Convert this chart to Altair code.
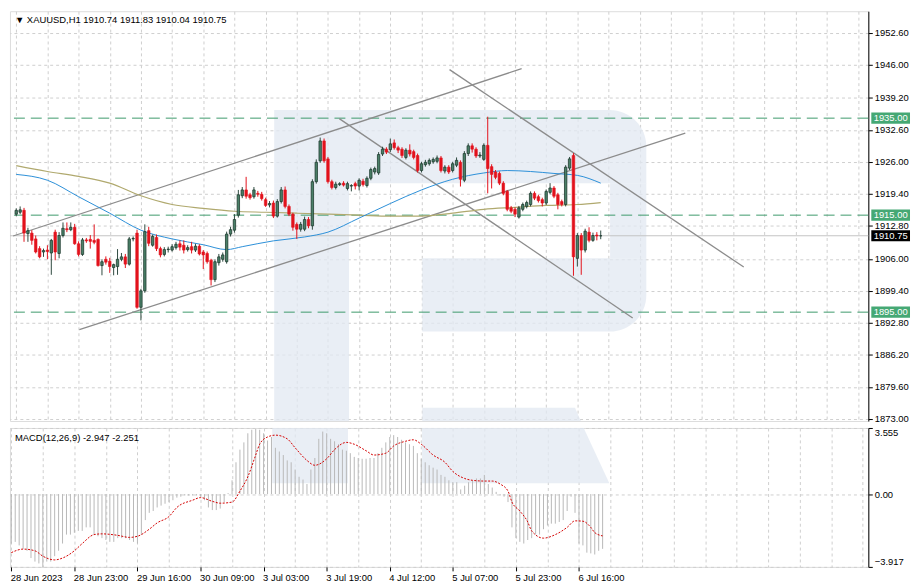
import json
import pandas as pd
import altair as alt

# ---------------- data ----------------
title_text = "\u25bc XAUUSD,H1  1910.74 1911.83 1910.04 1910.75"
macd_text = "MACD(12,26,9) -2.947 -2.251"

time_labels = ["28 Jun 2023", "28 Jun 23:00", "29 Jun 16:00", "30 Jun 09:00", "3 Jul 03:00",
               "3 Jul 19:00", "4 Jul 12:00", "5 Jul 07:00", "5 Jul 23:00", "6 Jul 16:00"]

price_ticks = [1873.00, 1879.60, 1886.20, 1892.80, 1899.40, 1906.00, 1912.80,
               1919.40, 1926.00, 1932.60, 1939.20, 1946.00, 1952.60]
macd_ticks = [-3.917, 0.0, 3.555]

opens = [1915.2, 1915.6, 1916.0, 1911.2, 1911.3, 1910.1, 1908.1, 1907.4, 1907.8, 1907.2,
         1911.5, 1907.1, 1910.8, 1912.2, 1912.0, 1912.5, 1909.1, 1906.9, 1909.9, 1910.0,
         1909.8, 1910.0, 1904.6, 1905.9, 1905.5, 1904.2, 1904.4, 1905.9, 1906.4, 1904.9,
         1910.1, 1911.3, 1896.0, 1899.4, 1911.8, 1908.8, 1910.4, 1908.1, 1906.9, 1907.9,
         1907.8, 1908.3, 1909.1, 1908.8, 1907.9, 1908.5, 1907.8, 1908.6, 1907.4, 1907.1,
         1905.7, 1901.7, 1905.2, 1905.9, 1905.4, 1911.1, 1911.9, 1915.0, 1919.0, 1920.2,
         1919.2, 1918.8, 1919.5, 1919.3, 1918.2, 1917.1, 1917.5, 1914.8, 1917.8, 1920.2,
         1916.8, 1915.2, 1913.1, 1912.1, 1912.1, 1914.1, 1912.8, 1921.9, 1926.2, 1930.3,
         1926.6, 1921.9, 1920.7, 1921.3, 1921.6, 1920.5, 1921.0, 1921.5, 1921.0, 1922.0,
         1921.1, 1922.6, 1923.9, 1923.7, 1927.6, 1928.6, 1928.5, 1929.9, 1928.9, 1928.6,
         1926.9, 1928.4, 1928.1, 1927.3, 1924.2, 1925.4, 1925.6, 1926.0, 1926.1, 1926.8,
         1924.1, 1924.9, 1924.2, 1925.3, 1925.9, 1922.2, 1927.7, 1929.3, 1928.6, 1927.2,
         1926.5, 1929.4, 1925.0, 1923.9, 1923.6, 1921.6, 1919.9, 1916.5, 1916.2, 1914.6,
         1916.2, 1916.8, 1917.2, 1919.5, 1918.8, 1918.2, 1917.5, 1919.7, 1920.6, 1919.2,
         1917.8, 1917.2, 1924.7, 1927.3, 1906.1, 1910.8, 1907.8, 1911.5, 1909.8, 1910.9,
         1910.74]
highs = [1916.4, 1916.8, 1916.5, 1912.4, 1911.9, 1910.8, 1908.6, 1908.1, 1908.8, 1910.1,
         1912.0, 1911.5, 1913.5, 1913.5, 1913.5, 1913.2, 1909.6, 1910.3, 1910.3, 1910.9,
         1913.1, 1910.2, 1905.9, 1906.5, 1906.2, 1905.0, 1908.0, 1907.2, 1907.0, 1910.5,
         1910.6, 1912.0, 1899.8, 1913.1, 1912.6, 1911.0, 1911.0, 1908.5, 1908.4, 1908.5,
         1909.0, 1909.5, 1909.8, 1909.8, 1908.8, 1909.5, 1909.1, 1909.0, 1907.8, 1907.5,
         1906.0, 1905.9, 1907.0, 1907.3, 1911.6, 1912.6, 1915.2, 1920.2, 1920.8, 1922.9,
         1919.6, 1920.8, 1920.0, 1919.8, 1918.6, 1917.9, 1918.0, 1918.3, 1920.8, 1920.9,
         1917.2, 1915.5, 1913.5, 1913.6, 1914.7, 1914.6, 1922.4, 1926.5, 1931.0, 1930.8,
         1927.0, 1922.3, 1921.9, 1921.8, 1922.0, 1921.9, 1921.4, 1921.9, 1922.6, 1922.5,
         1923.0, 1924.8, 1925.0, 1928.0, 1929.1, 1929.0, 1930.8, 1930.6, 1929.3, 1929.0,
         1928.8, 1929.6, 1928.5, 1927.7, 1926.0, 1926.4, 1926.7, 1926.9, 1927.3, 1927.2,
         1925.3, 1925.3, 1926.0, 1926.9, 1926.3, 1928.2, 1929.8, 1929.8, 1929.0, 1928.0,
         1929.8, 1935.3, 1925.5, 1924.3, 1924.0, 1922.0, 1920.2, 1916.9, 1916.6, 1916.9,
         1917.6, 1918.0, 1919.9, 1919.9, 1919.2, 1918.6, 1920.3, 1921.6, 1921.0, 1919.6,
         1918.2, 1925.3, 1927.0, 1927.8, 1911.3, 1911.3, 1912.2, 1912.5, 1911.4, 1911.5,
         1911.83]
lows = [1914.8, 1915.2, 1909.5, 1909.5, 1908.9, 1907.1, 1906.1, 1906.4, 1905.9, 1902.7,
        1905.7, 1906.1, 1910.4, 1911.5, 1911.7, 1908.9, 1906.5, 1906.6, 1909.3, 1908.1,
        1909.0, 1904.4, 1902.6, 1904.8, 1903.1, 1902.6, 1902.7, 1905.5, 1904.1, 1904.6,
        1909.6, 1895.7, 1893.3, 1899.0, 1908.6, 1908.5, 1907.6, 1906.3, 1906.5, 1907.3,
        1907.5, 1907.9, 1907.7, 1907.1, 1907.5, 1907.1, 1907.4, 1906.7, 1903.9, 1905.0,
        1900.5, 1901.2, 1904.6, 1905.4, 1905.0, 1910.6, 1911.4, 1914.5, 1918.5, 1918.4,
        1918.2, 1918.4, 1918.8, 1918.0, 1916.7, 1916.6, 1914.4, 1914.5, 1917.4, 1916.4,
        1914.8, 1911.8, 1910.1, 1911.6, 1911.7, 1912.3, 1912.0, 1921.5, 1925.8, 1925.8,
        1921.5, 1920.3, 1920.3, 1921.0, 1920.9, 1920.1, 1919.9, 1920.3, 1920.1, 1920.9,
        1920.7, 1922.2, 1923.4, 1923.3, 1927.2, 1927.6, 1928.0, 1928.5, 1927.8, 1926.8,
        1926.5, 1927.1, 1926.5, 1923.8, 1923.8, 1925.0, 1925.2, 1925.6, 1925.7, 1923.8,
        1923.6, 1923.5, 1923.8, 1924.9, 1920.9, 1921.8, 1927.2, 1927.9, 1926.8, 1926.8,
        1926.2, 1919.5, 1920.5, 1922.4, 1921.2, 1919.1, 1915.8, 1915.4, 1914.6, 1914.3,
        1915.8, 1916.4, 1916.8, 1918.1, 1917.6, 1916.8, 1917.1, 1919.3, 1918.5, 1916.2,
        1916.8, 1916.8, 1924.3, 1902.5, 1904.4, 1902.7, 1907.3, 1909.4, 1909.5, 1909.8,
        1910.04]
closes = [1916.0, 1916.1, 1911.3, 1911.8, 1909.8, 1907.4, 1906.4, 1907.7, 1907.5, 1909.8,
          1907.4, 1910.8, 1912.3, 1912.0, 1912.5, 1909.1, 1906.9, 1909.9, 1909.7, 1909.6,
          1909.4, 1904.6, 1905.4, 1905.3, 1904.4, 1904.8, 1905.9, 1906.4, 1904.9, 1910.1,
          1910.2, 1896.0, 1899.4, 1911.6, 1909.2, 1910.6, 1908.1, 1906.8, 1907.9, 1908.0,
          1908.5, 1909.0, 1908.4, 1907.8, 1908.3, 1907.8, 1908.6, 1907.0, 1906.8, 1905.4,
          1901.7, 1905.4, 1906.4, 1906.8, 1911.1, 1912.0, 1914.1, 1919.2, 1920.2, 1918.9,
          1918.6, 1920.2, 1919.3, 1918.4, 1917.0, 1917.4, 1914.8, 1917.8, 1920.2, 1916.8,
          1915.2, 1912.5, 1912.1, 1913.1, 1914.1, 1912.8, 1921.9, 1925.9, 1930.3, 1926.2,
          1921.9, 1920.7, 1921.4, 1921.5, 1921.2, 1921.5, 1921.1, 1921.0, 1922.2, 1921.3,
          1922.6, 1924.4, 1924.6, 1927.5, 1928.6, 1928.0, 1929.7, 1928.9, 1928.4, 1927.3,
          1928.4, 1927.6, 1926.9, 1924.2, 1925.6, 1925.9, 1926.3, 1926.5, 1926.8, 1924.2,
          1924.9, 1923.9, 1925.6, 1926.3, 1922.4, 1927.7, 1929.3, 1928.6, 1927.2, 1927.4,
          1929.4, 1924.6, 1923.4, 1922.8, 1921.6, 1919.5, 1916.2, 1915.8, 1915.2, 1916.5,
          1917.2, 1917.6, 1919.5, 1918.5, 1918.0, 1917.5, 1919.9, 1920.6, 1918.9, 1917.2,
          1917.2, 1924.9, 1926.6, 1906.4, 1910.8, 1907.8, 1911.7, 1909.8, 1910.8, 1910.7,
          1910.75]

macd_hist = [-2.66, -2.57, -2.76, -2.95, -3.05, -3.44, -3.63, -3.73, -3.93, -3.63,
             -3.63, -3.34, -3.05, -2.66, -2.18, -2.18, -2.08, -1.98, -1.98, -1.79,
             -1.79, -2.18, -2.27, -2.37, -2.47, -2.57, -2.57, -2.37, -2.37, -2.37,
             -2.47, -2.57, -2.66, -2.18, -1.40, -1.01, -0.91, -0.72, -0.62, -0.52,
             -0.43, -0.33, -0.19, -0.14, -0.08, -0.08, -0.08, -0.08, -0.14, -0.33,
             -0.72, -0.86, -0.86, -0.78, -0.43, 0.05, 0.74, 1.71, 2.39, 2.78,
             3.27, 3.46, 3.50, 3.46, 3.27, 2.88, 3.07, 2.49, 2.29, 2.10,
             1.81, 1.71, 1.32, 0.93, 0.78, 0.54, 1.32, 1.94, 2.97, 3.36,
             3.27, 2.97, 2.84, 2.68, 2.39, 2.33, 2.20, 2.00, 1.94, 1.90,
             1.90, 1.94, 1.94, 2.20, 2.49, 2.78, 3.07, 3.17, 3.07, 2.92,
             2.78, 2.68, 2.59, 2.20, 1.90, 1.71, 1.55, 1.42, 1.32, 1.03,
             0.93, 0.74, 0.64, 0.64, 0.25, 0.45, 0.64, 0.74, 0.84, 0.84,
             1.03, 0.54, 0.35, 0.12, -0.08, -0.14, -0.43, -1.79, -2.37, -2.57,
             -2.66, -2.47, -2.37, -2.18, -2.18, -1.89, -1.69, -1.59, -1.59, -1.50,
             -1.40, -0.91, -0.14, -1.01, -2.66, -2.76, -3.15, -3.19, -3.25, -3.05,
             -2.947]

signal_k = [0, 3, 6, 8, 11, 13, 16, 18, 21, 23, 27, 30, 32, 35, 37, 40, 42, 46, 48, 51,
            53, 56, 58, 60, 62, 63, 65, 67, 70, 72, 75, 77, 80, 82, 85, 87, 90, 92, 95, 97,
            100, 102, 104, 107, 110, 112, 115, 117, 120, 122, 124, 126, 127, 129, 131, 132,
            135, 138, 141, 143, 145, 147, 148, 150]
signal_v = [-3.15, -2.96, -3.05, -3.34, -3.54, -3.44, -3.05, -2.66, -2.18, -2.14,
            -2.22, -2.33, -2.27, -1.89, -1.55, -1.21, -0.72, -0.33, -0.19, -0.39,
            -0.49, -0.43, 0.16, 0.93, 2.10, 2.68, 3.07, 3.17, 2.97, 2.49,
            1.81, 1.55, 1.90, 2.39, 2.78, 2.68, 2.33, 2.10, 2.20, 2.59,
            2.84, 2.92, 2.68, 2.10, 1.71, 1.22, 0.84, 0.74, 0.70, 0.70,
            0.54, 0.16, -0.43, -0.91, -1.50, -1.98, -2.37, -2.18, -1.79, -1.44,
            -1.46, -1.79, -2.07, -2.25]

ma_blue_k = [0, 8, 16, 24, 32, 40, 48, 54, 58, 66, 74, 80, 88, 96, 104, 112, 120, 126, 132, 138, 144, 150]
ma_blue_v = [1923.4, 1922.2, 1918.8, 1915.4, 1911.9, 1910.1, 1908.9, 1907.9, 1908.5, 1909.7, 1910.5,
             1911.5, 1914.4, 1917.4, 1920.2, 1922.4, 1923.7, 1924.2, 1924.0, 1923.6, 1923.2, 1921.6]
ma_olive_k = [0, 8, 16, 24, 32, 40, 48, 56, 64, 72, 80, 88, 96, 104, 112, 120, 128, 136, 144, 150]
ma_olive_v = [1925.2, 1924.0, 1923.0, 1921.6, 1919.0, 1917.2, 1916.4, 1915.8, 1915.6, 1915.4,
              1915.2, 1915.0, 1914.8, 1914.8, 1915.4, 1916.2, 1916.6, 1917.0, 1917.2, 1917.6]

# analyst trend lines (bar index, price)
trend_k1 = [-0.8, 16.2, 82.9, 111.2]
trend_p1 = [1910.7, 1891.4, 1934.9, 1945.0]
trend_k2 = [129.7, 171.7, 158.2, 186.7]
trend_p2 = [1945.2, 1931.9, 1893.8, 1904.3]

levels = [1935.0, 1915.0, 1895.0]
last_price = 1910.75

# watermark logo pieces in data coordinates (bar index, price) / (bar index, macd)
wm_stem = [66.2, 85.4, 1872.55, 1921.6]
wm_top = [66.2, 161.7, 1921.6, 1936.7]        # rounded top-right
wm_side = [152.4, 161.7, 1906.1, 1921.6]
wm_bottom = [104.2, 161.7, 1891.0, 1906.1]    # rounded bottom-right
wm_leg_p = [1875.3, 1872.55]
wm_leg_k1 = [104.2, 104.2]
wm_leg_k2 = [143.4, 144.9]
wm_macd_stem = [66.2, 85.4, 0.58, 3.555]
wm_macd_leg_v = [3.555, 0.58]
wm_macd_leg_k1 = [104.2, 104.2]
wm_macd_leg_k2 = [145.2, 151.7]

# ---------------- styling ----------------
W, H1, H2 = 865, 413, 140
XDOM = [-0.33, 217.4]
PDOM = [1872.55, 1957.05]
MDOM = [-3.917, 3.555]
FONT = "Liberation Sans"
FS = 9.5
GRID = "#cfcfcf"
UP_FILL, UP_STROKE, UP_WICK = "#4a8068", "#1f3b30", "#2e4a40"
DOWN = "#e3121c"
LEVEL = "#3d9a6b"
WM = "#e1e8f2"
WM_OP = 0.75

xscale = alt.Scale(domain=XDOM, nice=False, zero=False)
pscale = alt.Scale(domain=PDOM, nice=False, zero=False)
mscale = alt.Scale(domain=MDOM, nice=False, zero=False)

grid_vals = list(range(0, 217, 8))
x_axis_top = alt.Axis(values=grid_vals, grid=True, gridDash=[3, 3], gridColor=GRID,
                      labels=False, ticks=False, domain=False, title=None)
lbl_expr = ("datum.value % 16 === 0 && datum.value / 16 < " + str(len(time_labels))
            + " ? " + json.dumps(time_labels) + "[datum.value / 16] : ''")
x_axis_bot = alt.Axis(values=grid_vals, grid=True, gridDash=[3, 3], gridColor=GRID,
                      labelExpr=lbl_expr, labelAlign="left", labelOffset=-1, labelPadding=2,
                      tickSize=4, tickColor="black",
                      tickOpacity={"condition": {"test": "datum.value % 16 === 0 && datum.value <= 144", "value": 1}, "value": 0},
                      domain=False, title=None, labelOverlap=False, labelBound=False,
                      labelFontSize=FS, labelFont=FONT, labelColor="black")
p_axis = alt.Axis(orient="right", values=price_ticks, format=".2f", grid=True, gridDash=[3, 3],
                  gridColor=GRID, tickSize=4, tickColor="black", domainColor="black",
                  labelPadding=2, labelFontSize=FS, labelFont=FONT, labelColor="black",
                  labelOverlap=False, title=None)
m_axis = alt.Axis(orient="right", values=macd_ticks,
                  labelExpr="datum.value === 0 ? '0.00' : format(datum.value, '.3f')",
                  labelFlush=True, grid=True, gridDash=[3, 3], gridColor=GRID, tickSize=4,
                  tickColor="black", domainColor="black", labelPadding=2, labelFontSize=FS,
                  labelFont=FONT, labelColor="black", labelOverlap=False, title=None)


def XM(f):
    return alt.X(f"{f}:Q", scale=xscale, axis=x_axis_top)


def XB(f):
    return alt.X(f"{f}:Q", scale=xscale, axis=x_axis_bot)


def PY(f):
    return alt.Y(f"{f}:Q", scale=pscale, axis=p_axis)


def MY(f):
    return alt.Y(f"{f}:Q", scale=mscale, axis=m_axis)


def box_df(b):
    return pd.DataFrame({"k1": [b[0]], "k2": [b[1]], "p1": [b[2]], "p2": [b[3]]})


# ---------------- tables ----------------
n = len(closes)
cd = pd.DataFrame({"k": list(range(n)), "o": opens, "h": highs, "l": lows, "c": closes})
cd["dir"] = ["up" if c >= o else "down" for o, c in zip(opens, closes)]
up = cd[cd["dir"] == "up"]
dn = cd[cd["dir"] == "down"]

leg_df = pd.DataFrame({"p": wm_leg_p, "k1": wm_leg_k1, "k2": wm_leg_k2})
leg2_df = pd.DataFrame({"v": wm_macd_leg_v, "k1": wm_macd_leg_k1, "k2": wm_macd_leg_k2})
trend_df = pd.DataFrame({"k1": trend_k1, "p1": trend_p1, "k2": trend_k2, "p2": trend_p2})
blue_df = pd.DataFrame({"k": ma_blue_k, "p": ma_blue_v})
olive_df = pd.DataFrame({"k": ma_olive_k, "p": ma_olive_v})
lev_df = pd.DataFrame({"p": levels})
lev_df["lo"] = lev_df["p"] - 1.15
lev_df["hi"] = lev_df["p"] + 1.15
lev_df["txt"] = [f"{v:.2f}" for v in levels]
last_df = pd.DataFrame({"p": [last_price], "lo": [last_price - 1.15], "hi": [last_price + 1.15],
                        "txt": [f"{last_price:.2f}"]})
hist_df = pd.DataFrame({"k": list(range(len(macd_hist))), "v": macd_hist})
sig_df = pd.DataFrame({"k": signal_k, "v": signal_v})
one = pd.DataFrame({"t": [title_text]})
one2 = pd.DataFrame({"t": [macd_text]})

# ---------------- main panel ----------------
def wm_rect(b, **kw):
    return alt.Chart(box_df(b)).mark_rect(color=WM, opacity=WM_OP, **kw).encode(
        x=XM("k1"), x2="k2", y=PY("p1"), y2="p2")


wm_layers = [
    wm_rect(wm_stem),
    wm_rect(wm_top, cornerRadiusTopRight=70),
    wm_rect(wm_side),
    wm_rect(wm_bottom, cornerRadiusBottomRight=70),
    alt.Chart(leg_df).mark_area(color=WM, opacity=WM_OP, orient="horizontal").encode(
        y=PY("p"), x=XM("k1"), x2="k2"),
]
last_line = alt.Chart(last_df).mark_rule(color="#c4c4c4", strokeWidth=1).encode(y=PY("p"))
lev_lines = alt.Chart(lev_df).mark_rule(color=LEVEL, strokeWidth=1, strokeDash=[11, 6]).encode(y=PY("p"))
trends = alt.Chart(trend_df).mark_rule(color="#8c8c8c", strokeWidth=1.3, clip=True).encode(
    x=XM("k1"), x2="k2", y=PY("p1"), y2="p2")
blue = alt.Chart(blue_df).mark_line(color="#2b8fd8", strokeWidth=1, interpolate="monotone", clip=True).encode(
    x=XM("k"), y=PY("p"))
olive = alt.Chart(olive_df).mark_line(color="#b0a96e", strokeWidth=1.2, interpolate="monotone", clip=True).encode(
    x=XM("k"), y=PY("p"))
wick_up = alt.Chart(up).mark_rule(color=UP_WICK, strokeWidth=1).encode(x=XM("k"), y=PY("l"), y2="h")
wick_dn = alt.Chart(dn).mark_rule(color=DOWN, strokeWidth=1).encode(x=XM("k"), y=PY("l"), y2="h")
body_up = alt.Chart(up).mark_bar(size=2.4, fill=UP_FILL, stroke=UP_STROKE, strokeWidth=0.8).encode(
    x=XM("k"), y=PY("o"), y2="c")
body_dn = alt.Chart(dn).mark_bar(size=2.6, fill=DOWN, stroke=DOWN, strokeWidth=0.6).encode(
    x=XM("k"), y=PY("o"), y2="c")
title = alt.Chart(one).mark_text(align="left", baseline="middle", fontSize=FS, font=FONT, color="black").encode(
    x=alt.value(5), y=alt.value(9), text="t:N")
lev_box = alt.Chart(lev_df).mark_rect(color="#45a874").encode(
    x=alt.value(W + 3), x2=alt.value(W + 42), y=PY("lo"), y2="hi")
lev_txt = alt.Chart(lev_df).mark_text(color="white", fontSize=FS, font=FONT, align="center", baseline="middle").encode(
    x=alt.value(W + 22.5), y=PY("p"), text="txt:N")
last_box = alt.Chart(last_df).mark_rect(color="black").encode(
    x=alt.value(W + 3), x2=alt.value(W + 42), y=PY("lo"), y2="hi")
last_txt = alt.Chart(last_df).mark_text(color="white", fontSize=FS, font=FONT, align="center", baseline="middle").encode(
    x=alt.value(W + 22.5), y=PY("p"), text="txt:N")

main = alt.layer(*wm_layers, last_line, lev_lines, trends, olive, blue,
                 wick_up, wick_dn, body_up, body_dn, title,
                 lev_box, lev_txt, last_box, last_txt).properties(width=W, height=H1)

# ---------------- MACD panel ----------------
wm2 = alt.Chart(pd.DataFrame({"k1": [wm_macd_stem[0]], "k2": [wm_macd_stem[1]],
                              "v1": [wm_macd_stem[2]], "v2": [wm_macd_stem[3]]})).mark_rect(
    color=WM, opacity=WM_OP).encode(x=XB("k1"), x2="k2", y=MY("v1"), y2="v2")
wm2_leg = alt.Chart(leg2_df).mark_area(color=WM, opacity=WM_OP, orient="horizontal").encode(
    y=MY("v"), x=XB("k1"), x2="k2")
hist = alt.Chart(hist_df).mark_rule(color="#b8b8b8", strokeWidth=1).encode(
    x=XB("k"), y=MY("v"), y2=alt.datum(0))
sig = alt.Chart(sig_df).mark_line(color="#d40000", strokeWidth=1, strokeDash=[2, 1.5], interpolate="monotone").encode(
    x=XB("k"), y=MY("v"))
mtitle = alt.Chart(one2).mark_text(align="left", baseline="middle", fontSize=FS, font=FONT, color="black").encode(
    x=alt.value(5), y=alt.value(10), text="t:N")

macd = alt.layer(wm2, wm2_leg, hist, sig, mtitle).properties(width=W, height=H2)

chart = alt.vconcat(main, macd, spacing=3).properties(padding=0, background="white").configure_view(
    stroke="black", strokeWidth=1).configure(font=FONT)

chart.save("out.html", embed_options={"renderer": "svg", "actions": False})
